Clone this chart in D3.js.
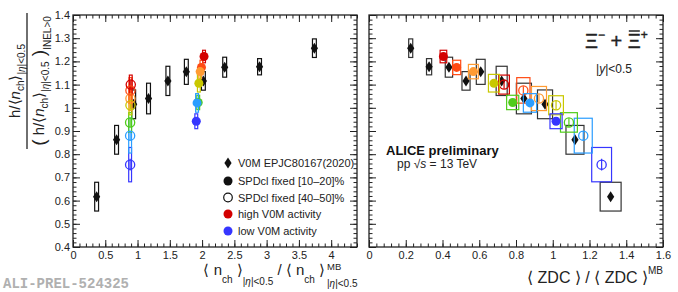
<!DOCTYPE html>
<html>
<head>
<meta charset="utf-8">
<script src="https://cdn.jsdelivr.net/npm/d3@7"></script>
<style>
  body { margin: 0; background: #fff; }
  svg { font-family: "Liberation Sans", Arial, sans-serif; }
</style>
</head>
<body>
<svg id="chart" width="678" height="292"></svg>
<script>
// V0M classes (EPJC 80, 167 (2020)), ordered by <nch>
var v0mNch = [0.366, 0.675, 0.94, 1.17, 1.47, 1.756, 2.02, 2.35, 2.89, 3.74];
var v0mZdc = [1.315, 1.121, 0.958, 0.843, 0.722, 0.608, 0.528, 0.435, 0.327, 0.227];
var v0mY = [0.617, 0.862, 1.015, 1.04, 1.116, 1.155, 1.116, 1.175, 1.177, 1.257];
var v0mStatY = [0.012, 0.012, 0.012, 0.012, 0.012, 0.012, 0.012, 0.012, 0.012, 0.012];
var v0mSysY = [0.062, 0.062, 0.062, 0.066, 0.063, 0.054, 0.04, 0.043, 0.035, 0.04];
var v0mSysNch = [0.03, 0.03, 0.03, 0.03, 0.03, 0.03, 0.03, 0.03, 0.03, 0.03];
var v0mSysZdc = [0.057, 0.049, 0.041, 0.041, 0.03, 0.024, 0.022, 0.02, 0.014, 0.011];

// V0M activity classes, low -> high
var classColors = ["#3636ff", "#2a9dff", "#4fcc1a", "#c9c800", "#ff9b33", "#ff4b14", "#d30000"];

// SPDcl fixed [10-20]%
var f10Nch = [1.91, 1.922, 1.94, 1.95, 1.97, 1.99, 2.03];
var f10Zdc = [1.018, 0.876, 0.782, 0.68, 0.568, 0.477, 0.405];
var f10Y = [0.942, 1.021, 1.023, 1.106, 1.156, 1.174, 1.221];
var f10StatY = [0.01, 0.01, 0.01, 0.01, 0.01, 0.01, 0.01];
var f10SysY = [0.032, 0.04, 0.031, 0.038, 0.031, 0.031, 0.027];
var f10SysNch = [0.022, 0.022, 0.022, 0.022, 0.022, 0.022, 0.022];
var f10SysZdc = [0.033, 0.036, 0.033, 0.03, 0.027, 0.022, 0.018];

// SPDcl fixed [40-50]%
var f40Nch = [0.885, 0.885, 0.885, 0.89, 0.89, 0.89, 0.895];
var f40Zdc = [1.266, 1.166, 1.088, 1.018, 0.925, 0.84, 0.735];
var f40Y = [0.755, 0.88, 0.937, 1.011, 1.04, 1.075, 1.1];
var f40StatY = [0.025, 0.02, 0.018, 0.018, 0.018, 0.018, 0.018];
var f40SysY = [0.074, 0.075, 0.042, 0.041, 0.052, 0.055, 0.041];
var f40SysNch = [0.022, 0.022, 0.022, 0.022, 0.022, 0.022, 0.022];
var f40SysZdc = [0.054, 0.049, 0.046, 0.04, 0.041, 0.036, 0.029];

var leftXTicks = [0, 0.5, 1, 1.5, 2, 2.5, 3, 3.5, 4];
var rightXTicks = [0, 0.2, 0.4, 0.6, 0.8, 1, 1.2, 1.4, 1.6];
var yTicks = [0.4, 0.5, 0.6, 0.7, 0.8, 0.9, 1, 1.1, 1.2, 1.3, 1.4];

var legendLabels = ["V0M EPJC80167(2020)", "SPDcl fixed [10\u201320]%", "SPDcl fixed [40\u201350]%",
  "high V0M activity", "low V0M activity"];

var svg = d3.select("#chart");
var FONT = "Liberation Sans, Arial, sans-serif";
var INK = "#222";

var xL = d3.scaleLinear().domain([0, 4.4]).range([73, 357]);
var xR = d3.scaleLinear().domain([0, 1.6]).range([369, 663]);
var y = d3.scaleLinear().domain([0.4, 1.4]).range([247, 15]);

var fmt = d => String(+d.toFixed(2));

function minors(scale, step) {
  var d = scale.domain(), out = [];
  var n = Math.round((d[1] - d[0]) / step);
  for (var i = 0; i <= n; i++) out.push(+(d[0] + i * step).toFixed(4));
  return out;
}

function styleAxis(g) {
  g.select(".domain").remove();
  g.attr("font-family", FONT).attr("font-size", 11).attr("color", INK);
  g.selectAll("line").attr("stroke-width", 1);
}

function frame(x, xTicks, xMinor, showY) {
  var x0 = x.range()[0], x1 = x.range()[1];
  var yMinor = minors(y, 0.02);

  svg.append("g").attr("transform", "translate(0," + y.range()[0] + ")")
    .call(d3.axisBottom(x).tickValues(xTicks).tickSize(-7).tickPadding(4).tickFormat(fmt)).call(styleAxis);
  svg.append("g").attr("transform", "translate(0," + y.range()[0] + ")")
    .call(d3.axisBottom(x).tickValues(minors(x, xMinor)).tickSize(-3.5).tickFormat("")).call(styleAxis);
  svg.append("g").attr("transform", "translate(0," + y.range()[1] + ")")
    .call(d3.axisTop(x).tickValues(xTicks).tickSize(-7).tickFormat("")).call(styleAxis);
  svg.append("g").attr("transform", "translate(0," + y.range()[1] + ")")
    .call(d3.axisTop(x).tickValues(minors(x, xMinor)).tickSize(-3.5).tickFormat("")).call(styleAxis);

  svg.append("g").attr("transform", "translate(" + x0 + ",0)")
    .call(d3.axisLeft(y).tickValues(yTicks).tickSize(-7).tickPadding(3).tickFormat(showY ? fmt : "")).call(styleAxis);
  svg.append("g").attr("transform", "translate(" + x0 + ",0)")
    .call(d3.axisLeft(y).tickValues(yMinor).tickSize(-3.5).tickFormat("")).call(styleAxis);
  svg.append("g").attr("transform", "translate(" + x1 + ",0)")
    .call(d3.axisRight(y).tickValues(yTicks).tickSize(-7).tickFormat("")).call(styleAxis);
  svg.append("g").attr("transform", "translate(" + x1 + ",0)")
    .call(d3.axisRight(y).tickValues(yMinor).tickSize(-3.5).tickFormat("")).call(styleAxis);

  svg.append("rect")
    .attr("x", x0).attr("y", y.range()[1])
    .attr("width", x1 - x0).attr("height", y.range()[0] - y.range()[1])
    .attr("fill", "none").attr("stroke", INK).attr("stroke-width", 1.3);
}

function diamond(g, cx, cy, col) {
  g.append("path")
    .attr("d", "M" + cx + "," + (cy - 5.5) + "L" + (cx + 3.6) + "," + cy + "L" + cx + "," + (cy + 5.5) + "L" + (cx - 3.6) + "," + cy + "Z")
    .attr("fill", col);
}

function drawSet(x, xs, ys, statY, sysX, sysY, colorOf, marker, reverse) {
  var g = svg.append("g");
  var idx = d3.range(xs.length);
  if (reverse) idx.reverse();
  g.selectAll(".sys").data(idx).enter().append("rect")
    .attr("x", i => x(xs[i] - sysX[i]))
    .attr("width", i => x(xs[i] + sysX[i]) - x(xs[i] - sysX[i]))
    .attr("y", i => y(ys[i] + sysY[i]))
    .attr("height", i => y(ys[i] - sysY[i]) - y(ys[i] + sysY[i]))
    .attr("fill", "none")
    .attr("stroke", i => colorOf(i))
    .attr("stroke-width", 1.2);
  g.selectAll(".stat").data(idx).enter().append("line")
    .attr("x1", i => x(xs[i])).attr("x2", i => x(xs[i]))
    .attr("y1", i => y(ys[i] + statY[i])).attr("y2", i => y(ys[i] - statY[i]))
    .attr("stroke", i => colorOf(i)).attr("stroke-width", 1.2);
  idx.forEach(i => {
    var cx = x(xs[i]), cy = y(ys[i]), c = colorOf(i);
    if (marker === "diamond") diamond(g, cx, cy, c);
    else if (marker === "filled") g.append("circle").attr("cx", cx).attr("cy", cy).attr("r", 4.5).attr("fill", c);
    else if (marker === "open") g.append("circle").attr("cx", cx).attr("cy", cy).attr("r", 4.6)
      .attr("fill", "none").attr("stroke", c).attr("stroke-width", 1.3);
  });
}

// rich text helper: parts = [text, {size, dy, italic}]
function rich(parent, x, yy, parts, anchor, base) {
  var t = parent.append("text").attr("x", x).attr("y", yy)
    .attr("font-family", FONT).attr("font-size", base).attr("fill", INK)
    .attr("text-anchor", anchor || "start");
  parts.forEach(p => {
    var o = p[1] || {};
    var s = t.append("tspan").text(p[0]).attr("font-size", o.size || base);
    if (o.dy) s.attr("dy", o.dy);
    if (o.italic) s.attr("font-style", "italic");
  });
  return t;
}

frame(xL, leftXTicks, 0.1, true);
frame(xR, rightXTicks, 0.04, false);

var black = () => "#111";
var cls = i => classColors[i];
var boxBlack = () => "#333";

// left panel
drawSet(xL, v0mNch, v0mY, v0mStatY, v0mSysNch, v0mSysY, black, "none");
v0mNch.forEach((v, i) => diamond(svg, xL(v), y(v0mY[i]), "#111"));
drawSet(xL, f40Nch, f40Y, f40StatY, f40SysNch, f40SysY, cls, "open");
drawSet(xL, f10Nch, f10Y, f10StatY, f10SysNch, f10SysY, cls, "filled", true);

// right panel
drawSet(xR, v0mZdc, v0mY, v0mStatY, v0mSysZdc, v0mSysY, boxBlack, "none");
v0mZdc.forEach((v, i) => diamond(svg, xR(v), y(v0mY[i]), "#111"));
drawSet(xR, f40Zdc, f40Y, f40StatY, f40SysZdc, f40SysY, cls, "open");
drawSet(xR, f10Zdc, f10Y, f10StatY, f10SysZdc, f10SysY, cls, "filled", true);

// legend
var lg = svg.append("g");
var legY = [163, 181, 197.5, 214, 231];
legendLabels.forEach((lab, i) => {
  var cy = legY[i], cx = 228;
  if (i === 0) diamond(lg, cx, cy, "#111");
  else if (i === 1) lg.append("circle").attr("cx", cx).attr("cy", cy).attr("r", 4.5).attr("fill", "#111");
  else if (i === 2) lg.append("circle").attr("cx", cx).attr("cy", cy).attr("r", 4.3).attr("fill", "none").attr("stroke", "#111").attr("stroke-width", 1.2);
  else lg.append("circle").attr("cx", cx).attr("cy", cy).attr("r", 4.5).attr("fill", i === 3 ? classColors[6] : classColors[0]);
  lg.append("text").attr("x", 238).attr("y", cy + 4).attr("font-family", FONT).attr("font-size", 11)
    .attr("fill", INK).text(lab);
});

// y title (fraction)
var yt = svg.append("g").attr("transform", "translate(0,81) rotate(-90)");
rich(yt, 0, 20, [["h/\u27E8"], ["n", {italic: true}], ["ch", {size: 10, dy: 4}], ["\u27E9", {dy: -4}],
  ["|", {size: 10, dy: 5}], ["\u03B7", {size: 10, italic: true}], ["|<0.5", {size: 10}]], "middle", 15);
yt.append("line").attr("x1", -68).attr("x2", 68).attr("y1", 27).attr("y2", 27)
  .attr("stroke", INK).attr("stroke-width", 1.3);
rich(yt, 0, 44, [["(", {size: 19, dy: 1}], [" h/\u27E8", {dy: -1}], ["n", {italic: true}], ["ch", {size: 10, dy: 4}],
  ["\u27E9", {dy: -4}], ["|", {size: 10, dy: 5}], ["\u03B7", {size: 10, italic: true}], ["|<0.5", {size: 10}],
  [" )", {size: 19, dy: -4}], ["INEL>0", {size: 10, dy: 6}]], "middle", 15);

// left x title
rich(svg, 325, 275, [["\u27E8 n"], ["ch", {size: 10, dy: 8}], [" \u27E9", {dy: -8}],
  ["|", {size: 10, dy: 10}], ["\u03B7", {size: 10, italic: true}], ["|<0.5", {size: 10}],
  [" / \u27E8 n", {dy: -10}], ["ch", {size: 10, dy: 8}], [" \u27E9", {dy: -8}]], "end", 15);
rich(svg, 327, 270, [["MB"]], "start", 9.5);
rich(svg, 327, 287, [["|"], ["\u03B7", {italic: true}], ["|<0.5"]], "start", 10);

// right x title
rich(svg, 663, 283, [["\u27E8 ZDC \u27E9 / \u27E8 ZDC \u27E9"], ["MB", {size: 10, dy: -9}]], "end", 16);

// ALICE label
svg.append("text").attr("x", 386).attr("y", 155).attr("font-family", FONT).attr("font-size", 13)
  .attr("font-weight", "bold").attr("fill", "#111").text("ALICE preliminary");
rich(svg, 397, 168, [["pp  \u221A"], ["s", {italic: true}], [" = 13 TeV"]], "start", 12);

// particle label
var xi = rich(svg, 585, 48, [["\u039E"], ["\u2212", {size: 12, dy: -9}], [" + ", {dy: 9}], ["\u039E"], ["+", {size: 12, dy: -9}]], "start", 20);
xi.attr("stroke", INK).attr("stroke-width", 0.4);
var ext = xi.node().getExtentOfChar(5);
svg.append("line").attr("x1", ext.x + 1).attr("x2", ext.x + ext.width - 1)
  .attr("y1", ext.y + 1).attr("y2", ext.y + 1).attr("stroke", INK).attr("stroke-width", 1.5);
rich(svg, 596, 73, [["|"], ["y", {italic: true}], ["|<0.5"]], "start", 12);

// preliminary id
svg.append("text").attr("x", 3).attr("y", 288).attr("font-family", "Liberation Mono, monospace")
  .attr("font-size", 14).attr("font-weight", "bold").attr("fill", "#b0b0b0").text("ALI-PREL-524325");
</script>
</body>
</html>
